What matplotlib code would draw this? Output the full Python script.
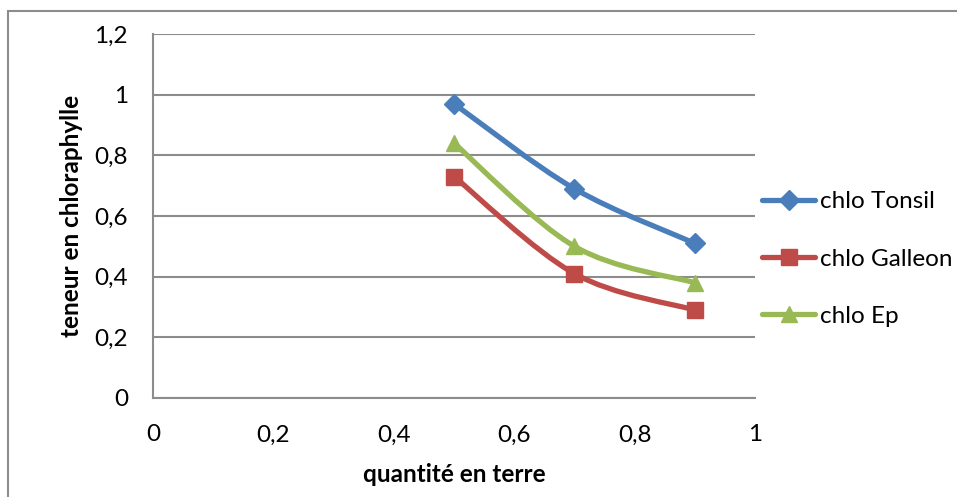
import matplotlib
matplotlib.use("Agg")
import matplotlib.pyplot as plt
from matplotlib.path import Path
from matplotlib.patches import PathPatch, Rectangle
from matplotlib.lines import Line2D
from matplotlib.ticker import FuncFormatter

plt.rcParams['font.family'] = ['Lato', 'DejaVu Sans']

# Data
quantite = [0.5, 0.7, 0.9]
chlo_tonsil = [0.97, 0.69, 0.51]
chlo_galleon = [0.73, 0.41, 0.29]
chlo_ep = [0.84, 0.50, 0.38]

series_names = ["chlo Tonsil", "chlo Galleon", "chlo Ep"]
series_values = [chlo_tonsil, chlo_galleon, chlo_ep]
colors = ["#4A7EBB", "#BE4B48", "#98B954"]
markers = ["D", "s", "^"]
marker_sizes = [10, 11, 12]

x_ticks = [0, 0.2, 0.4, 0.6, 0.8, 1.0]
y_ticks = [0, 0.2, 0.4, 0.6, 0.8, 1.0, 1.2]


def smooth_path(xs, ys):
    """Cubic Bezier path through the points (Catmull-Rom style smoothing)."""
    pts = list(zip(xs, ys))
    n = len(pts)
    verts = [pts[0]]
    codes = [Path.MOVETO]
    for i in range(n - 1):
        p0 = pts[i - 1] if i > 0 else pts[i]
        p1 = pts[i]
        p2 = pts[i + 1]
        p3 = pts[i + 2] if i + 2 < n else pts[i + 1]
        c1 = (p1[0] + (p2[0] - p0[0]) / 6, p1[1] + (p2[1] - p0[1]) / 6)
        c2 = (p2[0] - (p3[0] - p1[0]) / 6, p2[1] - (p3[1] - p1[1]) / 6)
        verts += [c1, c2, p2]
        codes += [Path.CURVE4] * 3
    return Path(verts, codes)


fig = plt.figure(figsize=(9.57, 4.97), dpi=100)
fig.patch.set_facecolor("white")

# Chart border
fig.patches.append(Rectangle((8 / 957, -0.1), 1.2, 1 - 10.5 / 497 + 0.1,
                             transform=fig.transFigure, fill=False,
                             edgecolor="#8C8C8C", linewidth=1.5))

ax = fig.add_axes([153 / 957, 99 / 497, 602 / 957, 364 / 497])
ax.set_xlim(0, 1)
ax.set_ylim(0, 1.2)
ax.set_xticks(x_ticks)
ax.set_yticks(y_ticks)

fmt = FuncFormatter(lambda v, p: ("%g" % round(v, 2)).replace(".", ","))
ax.xaxis.set_major_formatter(fmt)
ax.yaxis.set_major_formatter(fmt)
ax.tick_params(axis="both", length=0, labelsize=17.5, colors="black")
ax.tick_params(axis="x", pad=19)
ax.tick_params(axis="y", pad=18)

ax.grid(axis="y", color="#8C8C8C", linewidth=1.5)
ax.set_axisbelow(True)
for side in ["top", "right"]:
    ax.spines[side].set_visible(False)
for side in ["left", "bottom"]:
    ax.spines[side].set_color("#8C8C8C")
    ax.spines[side].set_linewidth(1.5)

handles = []
for name, vals, col, mk, ms in zip(series_names, series_values, colors, markers, marker_sizes):
    ax.add_patch(PathPatch(smooth_path(quantite, vals), facecolor="none",
                           edgecolor=col, linewidth=3.8, capstyle="round",
                           joinstyle="round", zorder=3))
    ax.plot(quantite, vals, linestyle="none", marker=mk, markersize=ms,
            color=col, zorder=4, clip_on=False)
    handles.append(Line2D([], [], color=col, linewidth=3.8, marker=mk,
                          markersize=ms, solid_capstyle="round"))

ax.set_xlabel("quantité en terre", fontsize=17.5, fontweight="bold", labelpad=13)
ax.set_ylabel("teneur en chloraphylle", fontsize=17.5, fontweight="bold", labelpad=8)

fig.legend(handles, series_names, loc="center left",
           bbox_to_anchor=(762 / 957, 1 - 259 / 497), frameon=False,
           fontsize=17.5, handlelength=2.2, handletextpad=0.2,
           labelspacing=1.5, numpoints=1, borderaxespad=0, borderpad=0)

fig.savefig("out.png", dpi=100, facecolor="white")
